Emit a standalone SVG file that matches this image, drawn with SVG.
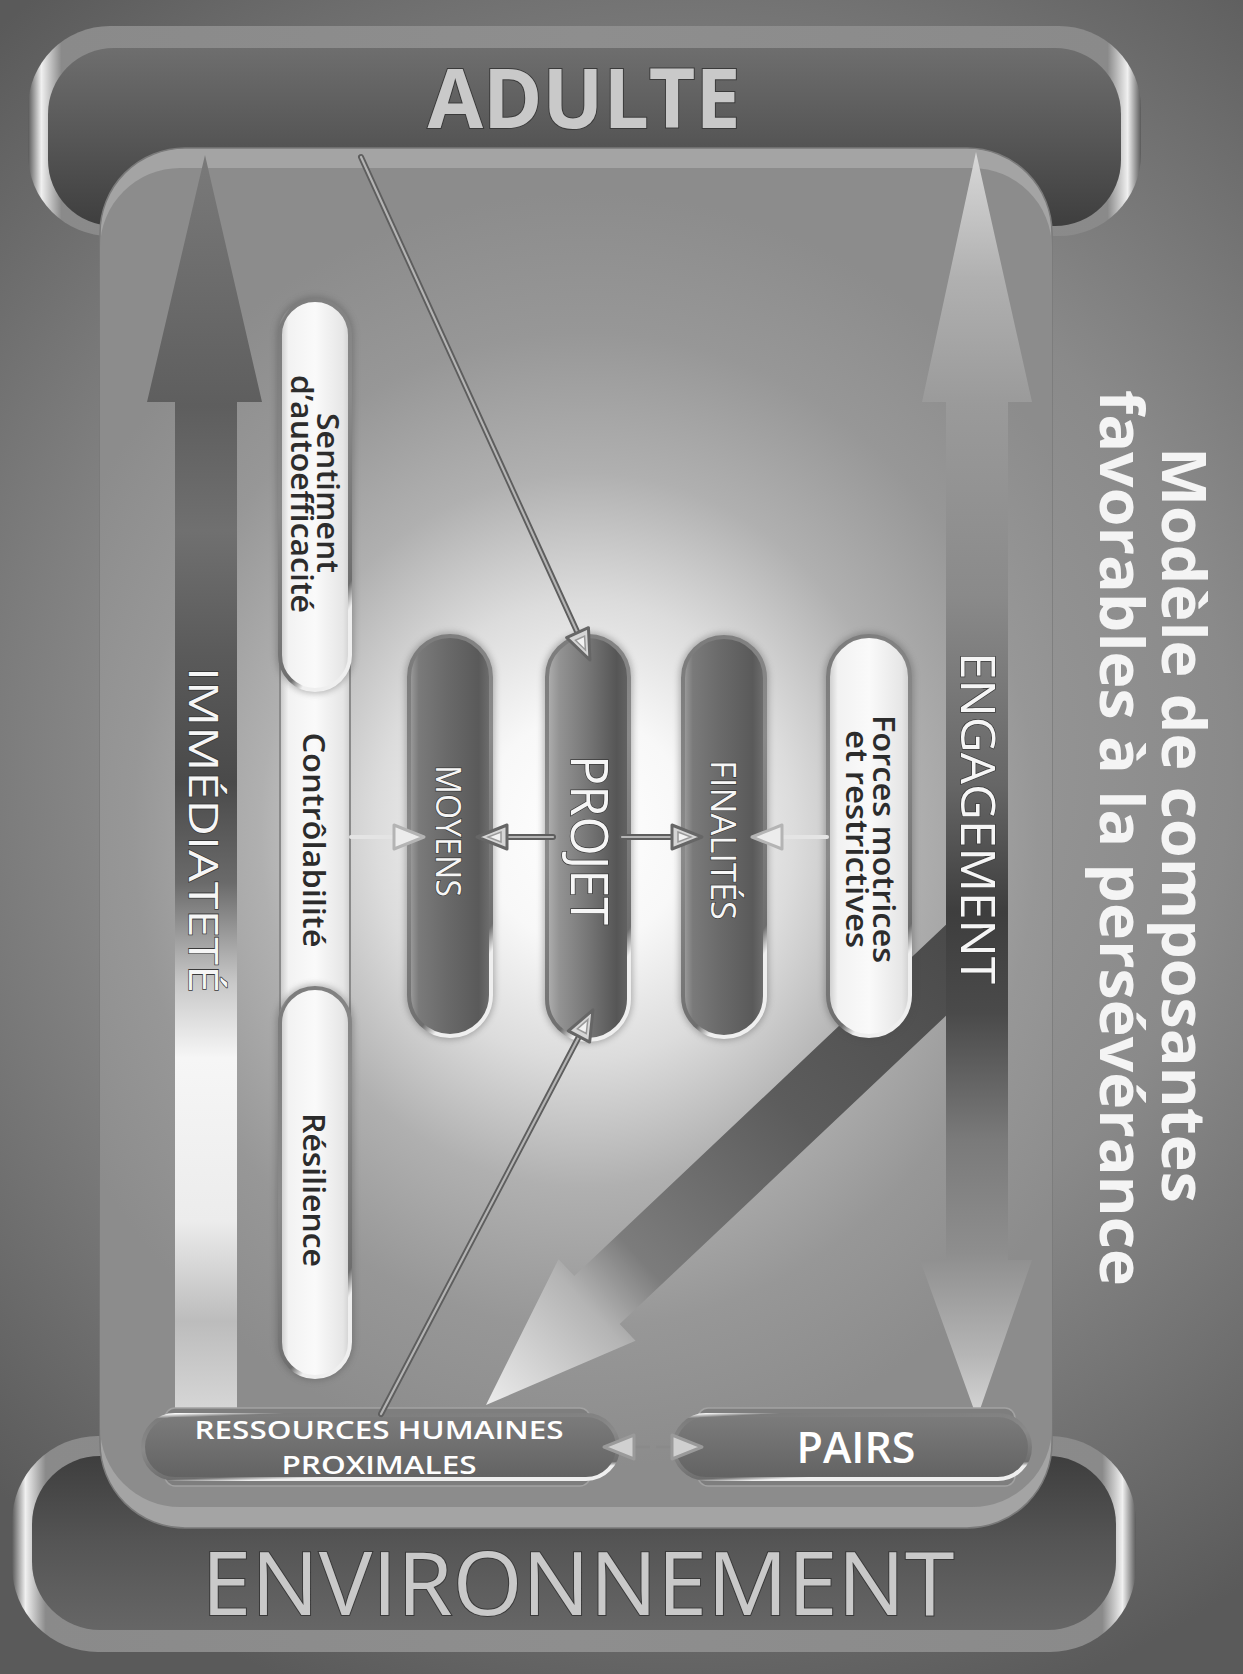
<svg xmlns="http://www.w3.org/2000/svg" width="1243" height="1674" viewBox="0 0 1243 1674">
<style>
  .pilltxt { font-family: "Open Sans", "Liberation Sans", sans-serif; font-weight: 600; font-size: 31px; fill: #2c2c2c; }
  .wtxt { font-family: "Open Sans", "Liberation Sans", sans-serif; font-weight: 400; fill: #f6f6f6; stroke: #3a3a3a; stroke-width: 1.4px; paint-order: stroke; }
  .big { font-family: "Open Sans", "Liberation Sans", sans-serif; fill: #c9c9c9; stroke: #3a3a3a; stroke-width: 2px; paint-order: stroke; }
  .boxtxt { font-family: "Open Sans", "Liberation Sans", sans-serif; font-weight: 600; fill: #ffffff; }
  .title { font-family: "Open Sans", "Liberation Sans", sans-serif; font-weight: 700; font-size: 60px; fill: #f4f4f4; }
  .rim { stroke: url(#rimG); stroke-width: 4; }
  .shadow { fill: #4a4a4a; opacity: 0.35; filter: url(#soft); }
  .lineDark { fill: none; stroke: #5e5e5e; stroke-width: 6; stroke-linecap: round; }
  .lineLight { fill: none; stroke: #b4b4b4; stroke-width: 2.2; stroke-linecap: round; }
  .faint { fill: none; stroke: #e4e4e4; stroke-width: 4; stroke-linecap: round; }
</style>
<defs>
  <filter id="soft" x="-20%" y="-20%" width="140%" height="140%"><feGaussianBlur stdDeviation="3"/></filter>
  <radialGradient id="bgG" cx="680" cy="760" r="1000" gradientUnits="userSpaceOnUse">
    <stop offset="0" stop-color="#a6a6a6"/>
    <stop offset="0.55" stop-color="#8a8a8a"/>
    <stop offset="1" stop-color="#5a5a5a"/>
  </radialGradient>
  <linearGradient id="rimH" x1="0" y1="0" x2="1" y2="0">
    <stop offset="0" stop-color="#5a5a5a"/>
    <stop offset="0.012" stop-color="#f0f0f0"/>
    <stop offset="0.03" stop-color="#8a8a8a"/>
    <stop offset="0.5" stop-color="#8e8e8e"/>
    <stop offset="0.97" stop-color="#8a8a8a"/>
    <stop offset="0.988" stop-color="#f0f0f0"/>
    <stop offset="1" stop-color="#5a5a5a"/>
  </linearGradient>
  <linearGradient id="bandTop" x1="0" y1="0" x2="0" y2="1">
    <stop offset="0" stop-color="#6e6e6e"/>
    <stop offset="0.5" stop-color="#575757"/>
    <stop offset="1" stop-color="#3e3e3e"/>
  </linearGradient>
  <linearGradient id="bandBot" x1="0" y1="0" x2="0" y2="1">
    <stop offset="0" stop-color="#3e3e3e"/>
    <stop offset="0.5" stop-color="#555555"/>
    <stop offset="1" stop-color="#666666"/>
  </linearGradient>
  <radialGradient id="glow" cx="585" cy="830" r="580" gradientUnits="userSpaceOnUse" gradientTransform="translate(585 830) scale(1 1.1) translate(-585 -830)">
    <stop offset="0" stop-color="#ffffff"/>
    <stop offset="0.18" stop-color="#f8f8f8"/>
    <stop offset="0.36" stop-color="#dcdcdc"/>
    <stop offset="0.56" stop-color="#b0b0b0"/>
    <stop offset="0.78" stop-color="#979797"/>
    <stop offset="1" stop-color="#8c8c8c"/>
  </radialGradient>
  <linearGradient id="immG" x1="0" y1="155" x2="0" y2="1409" gradientUnits="userSpaceOnUse">
    <stop offset="0" stop-color="#7a7a7a"/>
    <stop offset="0.2" stop-color="#5e5e5e"/>
    <stop offset="0.3" stop-color="#707070"/>
    <stop offset="0.4" stop-color="#5a5a5a"/>
    <stop offset="0.5" stop-color="#4a4a4a"/>
    <stop offset="0.58" stop-color="#6a6a6a"/>
    <stop offset="0.66" stop-color="#c8c8c8"/>
    <stop offset="0.72" stop-color="#f6f6f6"/>
    <stop offset="0.85" stop-color="#ececec"/>
    <stop offset="0.93" stop-color="#bcbcbc"/>
    <stop offset="1" stop-color="#d6d6d6"/>
  </linearGradient>
  <linearGradient id="engG" x1="0" y1="152" x2="0" y2="1418" gradientUnits="userSpaceOnUse">
    <stop offset="0" stop-color="#d8d8d8"/>
    <stop offset="0.1" stop-color="#b0b0b0"/>
    <stop offset="0.2" stop-color="#9a9a9a"/>
    <stop offset="0.35" stop-color="#8a8a8a"/>
    <stop offset="0.5" stop-color="#666666"/>
    <stop offset="0.6" stop-color="#3e3e3e"/>
    <stop offset="0.68" stop-color="#4a4a4a"/>
    <stop offset="0.78" stop-color="#7a7a7a"/>
    <stop offset="0.87" stop-color="#8e8e8e"/>
    <stop offset="0.95" stop-color="#b5b5b5"/>
    <stop offset="1" stop-color="#d8d8d8"/>
  </linearGradient>
  <linearGradient id="diagG" x1="1000" y1="919" x2="486" y2="1405" gradientUnits="userSpaceOnUse">
    <stop offset="0" stop-color="#474747"/>
    <stop offset="0.4" stop-color="#5c5c5c"/>
    <stop offset="0.7" stop-color="#7c7c7c"/>
    <stop offset="0.8" stop-color="#b4b4b4"/>
    <stop offset="1" stop-color="#ececec"/>
  </linearGradient>
  <linearGradient id="pd" x1="0" y1="0" x2="1" y2="0">
    <stop offset="0" stop-color="#a0a0a0"/>
    <stop offset="0.12" stop-color="#7a7a7a"/>
    <stop offset="0.45" stop-color="#6a6a6a"/>
    <stop offset="0.85" stop-color="#5a5a5a"/>
    <stop offset="1" stop-color="#707070"/>
  </linearGradient>
  <linearGradient id="pp" x1="0" y1="0" x2="1" y2="0">
    <stop offset="0" stop-color="#b0b0b0"/>
    <stop offset="0.15" stop-color="#939393"/>
    <stop offset="0.5" stop-color="#767676"/>
    <stop offset="0.85" stop-color="#565656"/>
    <stop offset="1" stop-color="#646464"/>
  </linearGradient>
  <linearGradient id="pl" x1="0" y1="0" x2="1" y2="0">
    <stop offset="0" stop-color="#c8c8c8"/>
    <stop offset="0.12" stop-color="#f2f2f2"/>
    <stop offset="0.5" stop-color="#fafafa"/>
    <stop offset="0.9" stop-color="#e6e6e6"/>
    <stop offset="1" stop-color="#cfcfcf"/>
  </linearGradient>
  <linearGradient id="rimG" x1="0" y1="0" x2="0.3" y2="1">
    <stop offset="0" stop-color="#fafafa"/>
    <stop offset="0.06" stop-color="#7c7c7c"/>
    <stop offset="0.5" stop-color="#8a8a8a"/>
    <stop offset="0.94" stop-color="#6e6e6e"/>
    <stop offset="1" stop-color="#efefef"/>
  </linearGradient>
  <linearGradient id="boxG" x1="0" y1="0" x2="0" y2="1">
    <stop offset="0" stop-color="#7c7c7c"/>
    <stop offset="1" stop-color="#626262"/>
  </linearGradient>
  <marker id="tri" viewBox="0 0 36 30" refX="15" refY="15" markerWidth="36" markerHeight="30" markerUnits="userSpaceOnUse" orient="auto">
    <path d="M3,3 L33,15 L3,27 Z" fill="#d6d6d6" stroke="#666666" stroke-width="3" stroke-linejoin="round"/>
    <path d="M9,10 L22,15 L9,20 Z" fill="#f2f2f2" stroke="#999999" stroke-width="1.5"/>
  </marker>
  <marker id="triL" viewBox="0 0 36 30" refX="15" refY="15" markerWidth="36" markerHeight="30" markerUnits="userSpaceOnUse" orient="auto">
    <path d="M3,3 L33,15 L3,27 Z" fill="#ececec" stroke="#b4b4b4" stroke-width="3" stroke-linejoin="round"/>
  </marker>
  <marker id="triS" viewBox="0 0 36 30" refX="15" refY="15" markerWidth="36" markerHeight="30" markerUnits="userSpaceOnUse" orient="auto">
    <path d="M3,3 L33,15 L3,27 Z" fill="#d0d0d0" stroke="#9a9a9a" stroke-width="3" stroke-linejoin="round"/>
  </marker>
</defs>

<rect x="0" y="0" width="1243" height="1674" fill="url(#bgG)"/>

<g id="adulte">
  <rect x="28" y="26" width="1113" height="210" rx="82" fill="url(#rimH)"/>
  <rect x="48" y="48" width="1073" height="178" rx="66" fill="url(#bandTop)"/>
  <text class="big" x="584" y="128" font-size="83" font-weight="700" text-anchor="middle" textLength="313" lengthAdjust="spacingAndGlyphs">ADULTE</text>
</g>

<g id="environnement">
  <rect x="12" y="1436" width="1124" height="216" rx="86" fill="url(#rimH)"/>
  <rect x="32" y="1456" width="1084" height="174" rx="68" fill="url(#bandBot)"/>
  <text class="big" x="578" y="1615" font-size="88" font-weight="400" text-anchor="middle" textLength="753" lengthAdjust="spacingAndGlyphs">ENVIRONNEMENT</text>
</g>

<g id="panel">
  <rect x="100" y="148" width="952" height="1380" rx="85" fill="#a4a4a4" stroke="#7a7a7a" stroke-width="1.5"/>
  <rect x="100" y="168" width="952" height="1339" rx="80" fill="url(#glow)"/>
</g>

<g id="immediatete">
  <polygon points="205,155 262,402 237,402 237,1409 175,1409 175,402 147,402" fill="url(#immG)"/>
  <text class="wtxt" transform="translate(189,830) rotate(90)" font-size="40" text-anchor="middle" textLength="326" lengthAdjust="spacingAndGlyphs">IMMÉDIATETÉ</text>
</g>

<g id="engagement">
  <polygon id="fleche-engagement-ressources" points="1005,869 574.3,1276 558.5,1259.3 486,1405 635.5,1340.7 619.7,1324 1005,960" fill="url(#diagG)"/>
  <polygon points="976,152 1032,402 1008,402 1008,1260 1032,1260 977,1418 920,1260 946,1260 946,402 922,402" fill="url(#engG)"/>
  <text class="wtxt" transform="translate(961,818) rotate(90)" font-size="48" text-anchor="middle" textLength="332" lengthAdjust="spacingAndGlyphs">ENGAGEMENT</text>
</g>

<g id="controlabilite">
  <rect x="280" y="620" width="70" height="440" fill="url(#pl)" stroke="#8a8a8a" stroke-width="2"/>
  <text class="pilltxt" transform="translate(303,840) rotate(90)" text-anchor="middle" textLength="215" lengthAdjust="spacingAndGlyphs">Contrôlabilité</text>
</g>
<g id="sentiment">
  <rect class="shadow" x="276" y="296" width="78" height="398" rx="39"/>
  <rect class="rim" x="280" y="300" width="70" height="390" rx="35" fill="url(#pl)"/>
  <text class="pilltxt" transform="translate(317,493) rotate(90)" text-anchor="middle" textLength="160" lengthAdjust="spacingAndGlyphs">Sentiment</text>
  <text class="pilltxt" transform="translate(291,494) rotate(90)" text-anchor="middle" textLength="238" lengthAdjust="spacingAndGlyphs">d’autoefficacité</text>
</g>
<g id="resilience">
  <rect class="shadow" x="276" y="984" width="78" height="397" rx="39"/>
  <rect class="rim" x="280" y="988" width="70" height="389" rx="35" fill="url(#pl)"/>
  <text class="pilltxt" transform="translate(303,1190) rotate(90)" text-anchor="middle" textLength="154" lengthAdjust="spacingAndGlyphs">Résilience</text>
</g>

<g id="moyens">
  <rect class="shadow" x="405" y="632" width="90" height="408" rx="45"/>
  <rect class="rim" x="409" y="636" width="82" height="400" rx="41" fill="url(#pd)"/>
  <text class="wtxt" transform="translate(436,831) rotate(90)" font-size="35" font-weight="600" text-anchor="middle" textLength="132" lengthAdjust="spacingAndGlyphs">MOYENS</text>
</g>
<g id="projet">
  <rect class="shadow" x="543" y="632" width="90" height="412" rx="45"/>
  <rect class="rim" x="547" y="636" width="82" height="404" rx="41" fill="url(#pp)"/>
  <text class="wtxt" transform="translate(571,840) rotate(90)" font-size="52" text-anchor="middle" textLength="170" lengthAdjust="spacingAndGlyphs">PROJET</text>
</g>
<g id="finalites">
  <rect class="shadow" x="679" y="633" width="90" height="408" rx="45"/>
  <rect class="rim" x="683" y="637" width="82" height="400" rx="41" fill="url(#pd)"/>
  <text class="wtxt" transform="translate(711,840) rotate(90)" font-size="35" font-weight="600" text-anchor="middle" textLength="160" lengthAdjust="spacingAndGlyphs">FINALITÉS</text>
</g>
<g id="forces">
  <rect class="shadow" x="824" y="632" width="90" height="408" rx="45"/>
  <rect class="rim" x="828" y="636" width="82" height="400" rx="41" fill="url(#pl)"/>
  <text class="pilltxt" transform="translate(873,839) rotate(90)" text-anchor="middle" textLength="248" lengthAdjust="spacingAndGlyphs">Forces motrices</text>
  <text class="pilltxt" transform="translate(846,839) rotate(90)" text-anchor="middle" textLength="218" lengthAdjust="spacingAndGlyphs">et restrictives</text>
</g>

<g id="ressources">
  <rect x="165" y="1408" width="425" height="78" rx="10" fill="#7e7e7e" stroke="#a2a2a2" stroke-width="1.5"/>
  <rect class="rim" x="143" y="1415" width="475" height="64" rx="32" fill="url(#boxG)"/>
  <text class="boxtxt" x="379" y="1439" font-size="25" text-anchor="middle" textLength="369" lengthAdjust="spacingAndGlyphs">RESSOURCES HUMAINES</text>
  <text class="boxtxt" x="379" y="1474" font-size="25" text-anchor="middle" textLength="195" lengthAdjust="spacingAndGlyphs">PROXIMALES</text>
</g>
<g id="pairs">
  <rect x="698" y="1408" width="317" height="78" rx="10" fill="#7e7e7e" stroke="#a2a2a2" stroke-width="1.5"/>
  <rect class="rim" x="674" y="1415" width="356" height="64" rx="32" fill="url(#boxG)"/>
  <text class="boxtxt" x="856" y="1463" font-size="43" font-weight="700" text-anchor="middle" textLength="119" lengthAdjust="spacingAndGlyphs">PAIRS</text>
</g>

<g id="connectors">
  <path class="lineDark" d="M361,157 L582.5,643.6"/>
  <path class="lineLight" d="M361,157 L582.5,643.6" marker-end="url(#tri)"/>
  <path class="lineDark" d="M381,1414 L584.6,1025.9"/>
  <path class="lineLight" d="M381,1414 L584.6,1025.9" marker-end="url(#tri)"/>
  <path class="lineDark" d="M553,837 L495,837"/>
  <path class="lineLight" d="M553,837 L495,837" marker-end="url(#tri)"/>
  <path class="lineDark" d="M622,837 L684,837"/>
  <path class="lineLight" d="M622,837 L684,837" marker-end="url(#tri)"/>
  <path class="faint" d="M351,837 L406,837" marker-end="url(#triL)"/>
  <path class="faint" d="M827,837 L770,837" marker-end="url(#triL)"/>
  <path d="M650,1447 L622,1447" stroke="#8a8a8a" stroke-width="3" marker-end="url(#triS)"/>
  <path d="M656,1447 L684,1447" stroke="#8a8a8a" stroke-width="3" marker-end="url(#triS)"/>
</g>

<g id="titre">
  <text class="title" transform="translate(1162,825) rotate(90)" text-anchor="middle" textLength="756" lengthAdjust="spacingAndGlyphs">Modèle de composantes</text>
  <text class="title" transform="translate(1100,838) rotate(90)" text-anchor="middle" textLength="896" lengthAdjust="spacingAndGlyphs">favorables à la persévérance</text>
</g>
</svg>
